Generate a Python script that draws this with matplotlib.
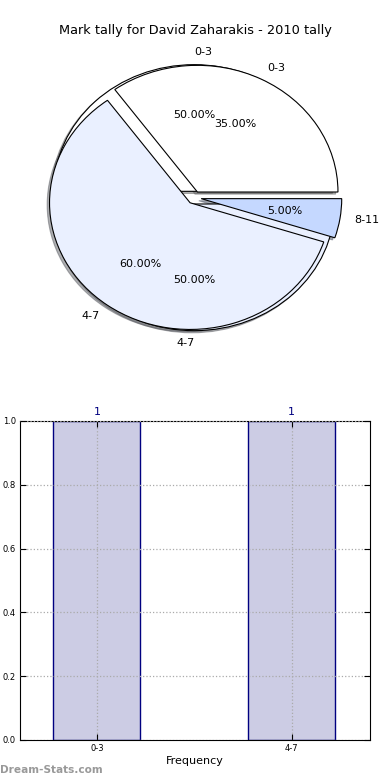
import matplotlib
matplotlib.use('Agg')
from matplotlib import pyplot as plt

title = 'Mark tally for David Zaharakis - 2010 tally'

# first pie (drawn underneath)
labels_a = ['0-3', '4-7']
sizes_a = [50, 50]
# second pie (drawn on top)
labels_b = ['0-3', '4-7', '8-11']
sizes_b = [35, 60, 5]
pie_colors = ['#ffffff', '#eaf0ff', '#c5d8ff']

# histogram part
bins = ['0-3', '4-7']
counts = [1, 1]
yticks = [0.0, 0.2, 0.4, 0.6, 0.8, 1.0]

fig = plt.figure(figsize=(3.9, 7.8), dpi=100)
fig.patch.set_facecolor('white')

shadow = dict(ox=-0.012, oy=-0.012, shade=0.6)
ax1 = fig.add_axes([0.0475, 0.5436, 0.901, 0.406])
_, texts_a, _ = ax1.pie(sizes_a, labels=labels_a, colors=pie_colors[:2],
                        autopct='%1.2f%%', explode=[0.05, 0.05], shadow=shadow,
                        startangle=0,
                        wedgeprops=dict(edgecolor='black', linewidth=0.8),
                        textprops=dict(fontsize=8))
# old-style label alignment: left of top label, right of bottom label
texts_a[0].set_ha('left')
texts_a[1].set_ha('right')
ax1.pie(sizes_b, labels=labels_b, colors=pie_colors, autopct='%1.2f%%',
        explode=[0.05, 0.05, 0.05], shadow=shadow, startangle=0,
        wedgeprops=dict(edgecolor='black', linewidth=0.8),
        textprops=dict(fontsize=8))
ax1.set_aspect('auto')
ax1.set_xlim(-1.25, 1.25)
ax1.set_ylim(-1.25, 1.25)
ax1.axis('off')
fig.text(0.5, 0.961, title, ha='center', va='center', fontsize=9.3)

ax2 = fig.add_axes([0.051, 0.0513, 0.897, 0.409])
xs = list(range(len(bins)))
bars = ax2.bar(xs, counts, width=0.446, color='#ccccE4', edgecolor='navy',
               linewidth=1, zorder=2)
for x, c in zip(xs, counts):
    ax2.text(x, c + 0.012, str(c), ha='center', va='bottom', color='navy', fontsize=8)
ax2.set_xlim(-0.395, 1.4)
ax2.set_ylim(0, 1.0)
ax2.set_xticks(xs)
ax2.set_xticklabels(bins, fontsize=6)
ax2.set_yticks(yticks)
ax2.set_yticklabels(['%.1f' % v for v in yticks], fontsize=6)
ax2.tick_params(direction='in', top=True, right=True, length=4, pad=3)
ax2.grid(True, linestyle=':', color='#aaaaaa', linewidth=0.9, zorder=3)
ax2.set_axisbelow(False)
ax2.set_xlabel('Frequency', fontsize=8, labelpad=2)

fig.text(0.0, 0.013, 'Dream-Stats.com', color='#999999', fontsize=7.6,
         fontweight='bold', ha='left', va='center')

fig.savefig('out.png', dpi=100)
